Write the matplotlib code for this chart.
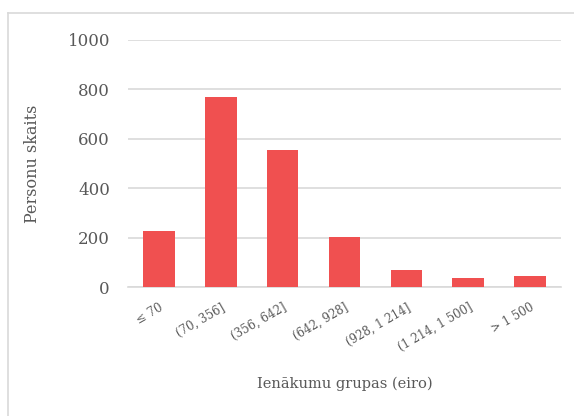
import matplotlib
matplotlib.use("Agg")
import matplotlib.pyplot as plt
from matplotlib.lines import Line2D

# income groups and number of persons
groups = ["≤ 70", "(70, 356]", "(356, 642]", "(642, 928]",
          "(928, 1 214]", "(1 214, 1 500]", "> 1 500"]
persons = [227, 771, 554, 203, 67, 35, 43]

plt.rcParams["font.family"] = ["DejaVu Serif"]
grey = "#595959"

fig = plt.figure(figsize=(5.74, 4.16), dpi=100)
ax = fig.add_axes([128 / 574, 1 - 287 / 416, 433 / 574, 247 / 416])

ax.bar(range(len(groups)), persons, width=0.51, color="#f05050", zorder=3)
ax.set_xlim(-0.5, len(groups) - 0.5)
ax.set_ylim(0, 1000)
ax.set_yticks(range(0, 1001, 200))
ax.grid(axis="y", color="#d9d9d9", linewidth=1.2, zorder=0)
for s in ["top", "right", "left"]:
    ax.spines[s].set_visible(False)
ax.spines["bottom"].set_color("#d9d9d9")
ax.spines["bottom"].set_linewidth(1.2)
ax.tick_params(length=0)
ax.tick_params(axis="y", labelsize=12, labelcolor=grey, pad=13)
ax.set_xticks(range(len(groups)))
ax.set_xticklabels(groups, rotation=30, ha="right", rotation_mode="anchor",
                   fontsize=8.5, color=grey)
ax.tick_params(axis="x", pad=10)

ax.set_ylabel("Personu skaits", fontsize=11.5, color=grey, labelpad=19)
ax.set_xlabel("Ienākumu grupas (eiro)", fontsize=10.5, color=grey, labelpad=16)

# outer frame of the chart area
fig.add_artist(Line2D([8 / 574, 1], [1 - 13 / 416] * 2, color="#d9d9d9",
                      linewidth=1.2, transform=fig.transFigure))
fig.add_artist(Line2D([8 / 574] * 2, [0, 1 - 13 / 416], color="#d9d9d9",
                      linewidth=1.2, transform=fig.transFigure))

fig.savefig("out.png", dpi=100)
